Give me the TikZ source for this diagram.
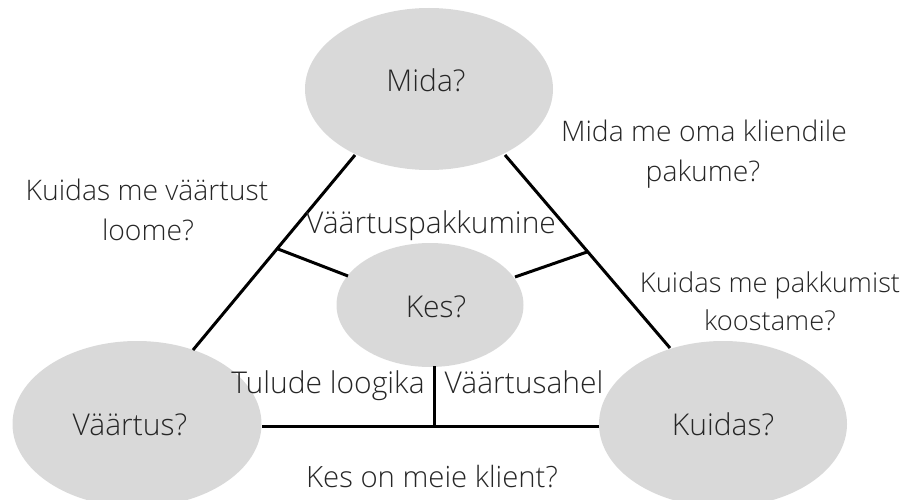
\documentclass[tikz,border=0pt]{standalone}
\usepackage{fontspec}
\setmainfont{Open Sans Light}
\usetikzlibrary{shapes.geometric}
\definecolor{bubble}{HTML}{D9D9D9}
\definecolor{ink}{HTML}{262626}
\begin{document}
\begin{tikzpicture}[x=1pt,y=-1pt,
  bub/.style={ellipse,fill=bubble,inner sep=0pt},
  lab/.style={text=ink,font=\fontsize{30}{35}\selectfont,inner sep=0pt,anchor=base},
  qlab/.style={text=ink,font=\fontsize{28.3}{34}\selectfont,inner sep=0pt,anchor=base},
  conn/.style={line width=3pt,black}]
\useasboundingbox (0,0) rectangle (918,500);
\begin{scope}
\clip (0,0) rectangle (918,500);
\node[bub,minimum width=248pt,minimum height=162pt] (mida) at (429,89) {};
\node[bub,minimum width=249pt,minimum height=166pt] (vaartus) at (137,424) {};
\node[bub,minimum width=248pt,minimum height=166pt] (kuidas) at (723,424) {};
\node[bub,minimum width=187pt,minimum height=124pt] (kes) at (430,305) {};
\end{scope}
\node[lab] (midat) at (426,92) {Mida?};
\node[lab] (vaartust) at (130,435) {Väärtus?};
\node[lab] (kuidast) at (723,435) {Kuidas?};
\node[lab] (kest) at (436,317) {Kes?};
% connectors
\coordinate (l1) at (355,155);
\coordinate (l2) at (193,350);
\coordinate (r1) at (505,155);
\coordinate (r2) at (670,348);
\coordinate (bl) at (262,426);
\coordinate (br) at (599,426);
\coordinate (bm) at (434,426);
\coordinate (km) at (434,366);
\coordinate (ls) at (278,249);
\coordinate (ls2) at (348,276);
\coordinate (rs) at (587,252);
\coordinate (rs2) at (515,277);
\draw[conn] (l1) -- (l2);
\draw[conn] (r1) -- (r2);
\draw[conn] (bl) -- (br);
\draw[conn] (km) -- (bm);
\draw[conn] (ls) -- (ls2);
\draw[conn] (rs) -- (rs2);
% labels
\node[qlab] (t1a) at (704,141.5) {Mida me oma kliendile};
\node[qlab] (t1b) at (703,181.5) {pakume?};
\node[qlab] (t2a) at (147,200) {Kuidas me väärtust};
\node[qlab] (t2b) at (148,240) {loome?};
\node[lab] (t3) at (431,233) {Väärtuspakkumine};
\node[qlab,font=\fontsize{27.3}{34}\selectfont] (t4a) at (770,292) {Kuidas me pakkumist};
\node[qlab,font=\fontsize{27.3}{34}\selectfont] (t4b) at (770,330) {koostame?};
\node[lab] (t5) at (328,393) {Tulude loogika};
\node[lab] (t6) at (524,393) {Väärtusahel};
\node[qlab,font=\fontsize{29.3}{34}\selectfont] (t7) at (432,487) {Kes on meie klient?};
\end{tikzpicture}
\end{document}
